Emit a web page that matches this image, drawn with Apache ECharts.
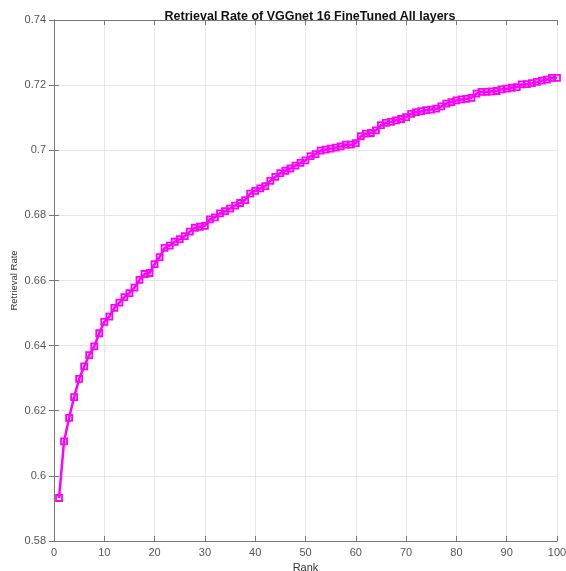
<!DOCTYPE html>
<html>
<head>
<meta charset="utf-8">
<script src="https://cdn.jsdelivr.net/npm/echarts@6/dist/echarts.min.js"></script>
<style>
  html, body { margin: 0; padding: 0; background: #fff; }
  #chart { width: 566px; height: 571px; }
</style>
</head>
<body>
<div id="chart"></div>
<script>
// rank 1..100
var ranks = [];
for (var i = 1; i <= 100; i++) ranks.push(i);

// retrieval rate
var rates = [
  0.5932, 0.6106, 0.6178, 0.6242, 0.6298, 0.6336, 0.6371, 0.6398, 0.6438, 0.6473,
  0.6489, 0.6516, 0.6532, 0.6549, 0.6561, 0.6578, 0.6602, 0.6620, 0.6623, 0.6650,
  0.6672, 0.6700, 0.6707, 0.6719, 0.6727, 0.6736, 0.6750, 0.6762, 0.6765, 0.6768,
  0.6788, 0.6794, 0.6806, 0.6813, 0.6821, 0.6830, 0.6838, 0.6847, 0.6867, 0.6875,
  0.6883, 0.6890, 0.6906, 0.6918, 0.6930, 0.6937, 0.6944, 0.6953, 0.6961, 0.6969,
  0.6982, 0.6988, 0.6999, 0.7002, 0.7005, 0.7008, 0.7012, 0.7017, 0.7017, 0.7022,
  0.7043, 0.7051, 0.7053, 0.7061, 0.7077, 0.7084, 0.7087, 0.7092, 0.7096, 0.7102,
  0.7112, 0.7117, 0.7120, 0.7123, 0.7125, 0.7128, 0.7135, 0.7143, 0.7148, 0.7153,
  0.7156, 0.7158, 0.7161, 0.7174, 0.7179, 0.7179, 0.7181, 0.7182, 0.7187, 0.7189,
  0.7192, 0.7194, 0.7202, 0.7203, 0.7206, 0.7210, 0.7214, 0.7217, 0.7222, 0.7222
];

var chartTitle = 'Retrieval Rate of VGGnet 16 FineTuned All layers';
var xName = 'Rank';
var yName = 'Retrieval Rate';

var data = ranks.map(function (r, i) { return [r, rates[i]]; });

var axisGray = '#777';
var labelStyle = { color: '#555', fontSize: 11, fontFamily: 'Liberation Sans, Arial, sans-serif' };

var chart = echarts.init(document.getElementById('chart'));
var option = {
    animation: false,
    backgroundColor: '#fff',
    title: {
        text: chartTitle,
        left: 305, top: 5, textAlign: 'center',
        textStyle: { fontSize: 12.5, fontWeight: 'bold', color: '#111', fontFamily: 'Liberation Sans, Arial, sans-serif' }
    },
    grid: { left: 54, top: 20, right: 9, bottom: 30, outerBoundsMode: 'none' },
    xAxis: [{
        type: 'value', min: 0, max: 100, interval: 10,
        name: xName, nameLocation: 'middle', nameGap: 15,
        nameTextStyle: { color: '#333', fontSize: 11, fontFamily: 'Liberation Sans, Arial, sans-serif' },
        axisLine: { lineStyle: { color: axisGray, width: 1 } },
        axisTick: { inside: true, length: 5, lineStyle: { color: axisGray } },
        axisLabel: Object.assign({ margin: 6 }, labelStyle),
        splitLine: { show: true, lineStyle: { color: '#e6e6e6', width: 1 } }
    }, {
        type: 'value', min: 0, max: 100, interval: 10, position: 'top',
        axisLine: { show: true, lineStyle: { color: axisGray, width: 1 } },
        axisTick: { inside: true, length: 5, lineStyle: { color: axisGray } },
        axisLabel: { show: false },
        splitLine: { show: false }
    }],
    yAxis: [{
        type: 'value', min: 0.58, max: 0.74, interval: 0.02,
        name: yName, nameLocation: 'middle', nameGap: 35, nameMoveOverlap: false,
        nameTextStyle: { color: '#333', fontSize: 9.5, fontFamily: 'Liberation Sans, Arial, sans-serif' },
        axisLine: { show: true, lineStyle: { color: axisGray, width: 1 } },
        axisTick: { inside: true, length: 5, lineStyle: { color: axisGray } },
        axisLabel: Object.assign({
            margin: 8,
            formatter: function (v) { return String(parseFloat(v.toFixed(2))); }
        }, labelStyle),
        splitLine: { show: true, lineStyle: { color: '#e6e6e6', width: 1 } }
    }, {
        type: 'value', min: 0.58, max: 0.74, interval: 0.02, position: 'right',
        axisLine: { show: true, lineStyle: { color: axisGray, width: 1 } },
        axisTick: { inside: true, length: 5, lineStyle: { color: axisGray } },
        axisLabel: { show: false },
        splitLine: { show: false }
    }],
    series: [{
        type: 'line',
        data: data,
        xAxisIndex: 0, yAxisIndex: 0,
        symbol: 'rect',
        symbolSize: 6,
        showAllSymbol: true,
        z: 3,
        lineStyle: { color: '#ff00ff', width: 2.5 },
        itemStyle: { color: 'rgba(255,255,255,0)', borderColor: '#ff00ff', borderWidth: 1.8 }
    }]
};
chart.setOption(option);
</script>
</body>
</html>
